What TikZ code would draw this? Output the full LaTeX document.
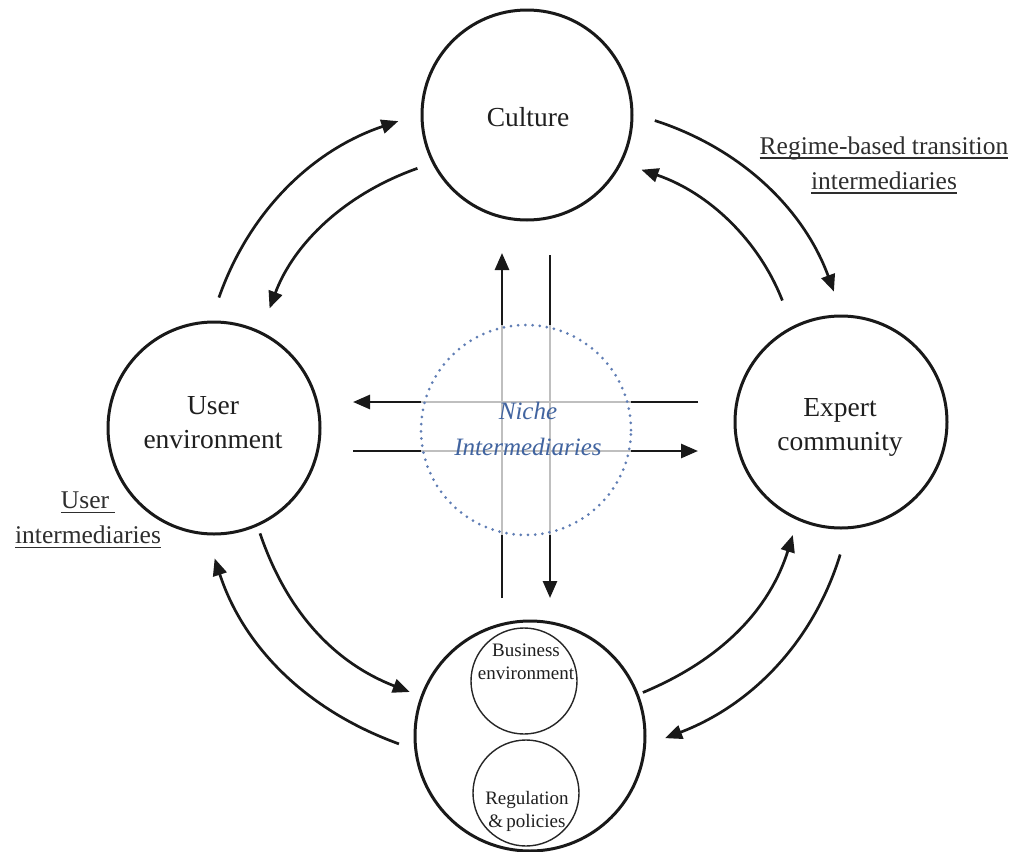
\documentclass[tikz,border=0pt]{standalone}
\usepackage{fontspec}
\setmainfont{Liberation Serif}
\usetikzlibrary{arrows.meta}
\newcommand{\myul}[1]{\setbox0\hbox{#1}\rlap{\rule[-4.5pt]{\wd0}{1.3pt}}\box0}
\definecolor{nicheblue}{RGB}{65,100,160}
\definecolor{dotblue}{RGB}{95,125,180}
\begin{document}
\begin{tikzpicture}[x=1pt,y=-1pt,
  big/.style={circle, draw=black!90, line width=3pt, minimum size=#1, inner sep=0pt, outer sep=0pt},
  bigtext/.style={align=center, font=\fontsize{27.5}{34}\selectfont, text=black!88, inner sep=0pt},
  small/.style={circle, draw=black!85, line width=1.4pt, minimum size=106pt, inner sep=0pt, outer sep=0pt},
  smalltext/.style={align=center, font=\fontsize{19}{23}\selectfont, text=black!88, inner sep=0pt},
  label/.style={align=center, font=\fontsize{25.5}{35}\selectfont, text=black!82, inner sep=0pt},
  arr/.style={line width=2.7pt, draw=black!90, -{Triangle[length=17pt,width=14pt]}},
  greyline/.style={draw=black!25, line width=1.6pt},
  whiteout/.style={draw=white, line width=6pt},
  dotted circle/.style={circle, draw=dotblue, line width=3pt, dash pattern=on 0pt off 7.2pt, line cap=round,
    minimum size=210pt, inner sep=0pt, outer sep=0pt}
]
\useasboundingbox[fill=white] (0,0) rectangle (1021,852);

% main circles
\node[big=210pt] (cult) at (527,115) {};
\node[big=212pt] (user) at (214,428) {};
\node[big=212pt] (exp) at (841,422) {};
\node[big=230pt] (bot) at (530,736) {};
\node[small] (bus) at (524,681) {};
\node[small] (reg) at (526,793) {};
\node[bigtext] (culttext) at (528,117) {Culture};
\node[bigtext] (usertext) at (213,423) {User\\environment};
\node[bigtext] (exptext) at (840,427) {Expert\\community};
\node[smalltext] (bustext) at (526,662) {Business\\environment};
\node[smalltext] (regtext) at (527,811) {Regulation\\\&\,policies};

% niche circle (placeholder for positions)
\node[circle, minimum size=210pt, inner sep=0pt, outer sep=0pt] (niche) at (526,430) {};
\coordinate (vL) at ([xshift=-24pt]niche.center);
\coordinate (vR) at ([xshift=24pt]niche.center);
\coordinate (hU) at ([yshift=28pt]niche.center);
\coordinate (hD) at ([yshift=-21pt]niche.center);

% straight arrows
\draw[arr, shorten <=23pt, shorten >=33pt] (bot.north -| vL) -- (cult.south -| vL);
\draw[arr, shorten <=35pt, shorten >=23pt] (cult.south -| vR) -- (bot.north -| vR);
\draw[arr, shorten <=37pt, shorten >=33pt] (exp.west |- hU) -- (user.east |- hU);
\draw[arr, shorten <=33pt, shorten >=37pt] (user.east |- hD) -- (exp.west |- hD);

% grey middle parts
\draw[whiteout] (niche.north -| vL) -- (niche.south -| vL);
\draw[whiteout] (niche.north -| vR) -- (niche.south -| vR);
\draw[whiteout] (niche.west |- hU) -- (niche.east |- hU);
\draw[whiteout] (niche.west |- hD) -- (niche.east |- hD);
\draw[greyline] (niche.north -| vL) -- (niche.south -| vL);
\draw[greyline] (niche.north -| vR) -- (niche.south -| vR);
\draw[greyline] (niche.west |- hU) -- (niche.east |- hU);
\draw[greyline] (niche.west |- hD) -- (niche.east |- hD);

\node[dotted circle] (nichering) at (niche.center) {};
\node[align=center, font=\itshape\fontsize{25}{36}\selectfont, text=nicheblue, inner sep=0pt] (nichetext) at (528,429) {Niche\\Intermediaries};

% curved arrows
\draw[arr, shorten <=26pt, shorten >=25pt] (user.92) to[bend left=26] (cult.179);
\draw[arr, shorten <=17pt, shorten >=26pt] (cult.207) to[bend right=25] (user.64);
\draw[arr, shorten <=24pt, shorten >=26pt] (cult.1) to[bend left=26] (exp.89);
\draw[arr, shorten <=29pt, shorten >=22pt] (exp.117) to[bend right=25] (cult.333);
\draw[arr, shorten <=9pt, shorten >=13pt] (user.294) to[bend right=25] (bot.160);
\draw[arr, shorten <=18pt, shorten >=26pt] (bot.187) to[bend left=26] (user.266);
\draw[arr, shorten <=6pt, shorten >=17pt] (bot.21) to[bend right=25] (exp.246);
\draw[arr, shorten <=28pt, shorten >=22pt] (exp.274) to[bend left=26] (bot.355);

% labels
\node[label] (regime) at (884,165) {\myul{Regime-based transition}\\\myul{intermediaries}};
\node[label] (userint) at (88,520) {\myul{User\hspace{6pt}}\\\myul{intermediaries}};
\end{tikzpicture}
\end{document}
